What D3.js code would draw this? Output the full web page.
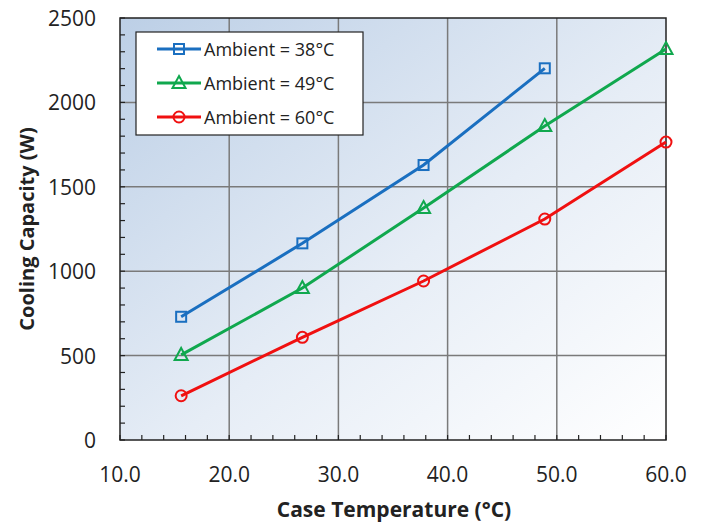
<html>
<head>
<script src="https://cdn.jsdelivr.net/npm/d3@7"></script>
<style>
  body { margin: 0; background: white; }
  text { font-family: "Open Sans", Lato, sans-serif; fill: #222; }
</style>
</head>
<body>
<svg id="chart" width="702" height="524"></svg>
<script>
  // data
  let caseTemps = [15.6, 26.7, 37.8, 48.9, 60.0]
  let amb38 = [730, 1165, 1629, 2202]
  let amb49 = [504, 900, 1374, 1860, 2316]
  let amb60 = [262, 608, 942, 1309, 1765]
  let seriesNames = ["Ambient = 38°C", "Ambient = 49°C", "Ambient = 60°C"]
  let seriesColors = ["#1a6fc0", "#10a84e", "#f01010"]
  let seriesShapes = ["square", "triangle", "circle"]
  let xTicks = [10, 20, 30, 40, 50, 60]
  let yTicks = [0, 500, 1000, 1500, 2000, 2500]

  let svg = d3.select("#chart")
  let pLeft = 120, pRight = 666, pTop = 18, pBottom = 440

  let x = d3.scaleLinear().domain([10, 60]).range([pLeft, pRight])
  let y = d3.scaleLinear().domain([0, 2500]).range([pBottom, pTop])

  // background gradient
  let defs = svg.append("defs")
  let grad = defs.append("linearGradient").attr("id", "bg")
    .attr("x1", "0").attr("y1", "0").attr("x2", "1").attr("y2", "1")
  grad.append("stop").attr("offset", "0").attr("stop-color", "#bccfe6")
  grad.append("stop").attr("offset", "0.55").attr("stop-color", "#e6edf6")
  grad.append("stop").attr("offset", "1").attr("stop-color", "#ffffff")

  svg.append("rect").attr("x", pLeft).attr("y", pTop)
    .attr("width", pRight - pLeft).attr("height", pBottom - pTop)
    .attr("fill", "url(#bg)")

  // grid
  svg.append("g").selectAll("line").data(xTicks.slice(1, -1))
    .enter().append("line")
    .attr("x1", d => x(d)).attr("x2", d => x(d))
    .attr("y1", pTop).attr("y2", pBottom)
    .attr("stroke", "#7a7a7a").attr("stroke-width", 1.5)
  svg.append("g").selectAll("line").data(yTicks.slice(1, -1))
    .enter().append("line")
    .attr("y1", d => y(d)).attr("y2", d => y(d))
    .attr("x1", pLeft).attr("x2", pRight)
    .attr("stroke", "#7a7a7a").attr("stroke-width", 1.5)

  // minor ticks inside
  svg.append("g").selectAll("line").data(d3.range(10, 60.01, 2))
    .enter().append("line")
    .attr("x1", d => x(d)).attr("x2", d => x(d))
    .attr("y1", pBottom).attr("y2", pBottom - 5)
    .attr("stroke", "#222").attr("stroke-width", 1.2)
  svg.append("g").selectAll("line").data(d3.range(0, 2501, 100))
    .enter().append("line")
    .attr("y1", d => y(d)).attr("y2", d => y(d))
    .attr("x1", pLeft).attr("x2", pLeft + 5)
    .attr("stroke", "#222").attr("stroke-width", 1.2)

  // frame
  svg.append("rect").attr("x", pLeft).attr("y", pTop)
    .attr("width", pRight - pLeft).attr("height", pBottom - pTop)
    .attr("fill", "none").attr("stroke", "#222").attr("stroke-width", 1.5)

  // tick labels
  svg.append("g").selectAll("text").data(xTicks)
    .enter().append("text")
    .attr("x", d => x(d)).attr("y", 482)
    .attr("text-anchor", "middle").attr("font-size", 21)
    .text(d => d3.format(".1f")(d))
  svg.append("g").selectAll("text").data(yTicks)
    .enter().append("text")
    .attr("x", 96).attr("y", d => y(d) + 8)
    .attr("text-anchor", "end").attr("font-size", 21)
    .text(d => d)

  // axis titles
  svg.append("text").attr("x", 394).attr("y", 517)
    .attr("text-anchor", "middle").attr("font-size", 21).attr("font-weight", "bold")
    .text("Case Temperature (°C)")
  svg.append("text").attr("transform", "translate(34,229) rotate(-90)")
    .attr("text-anchor", "middle").attr("font-size", 20).attr("font-weight", "bold")
    .text("Cooling Capacity (W)")

  function drawMarker(g, shape, color) {
    if (shape == "square") {
      g.append("rect").attr("x", -5).attr("y", -5).attr("width", 10).attr("height", 10)
        .attr("fill", "none").attr("stroke", color).attr("stroke-width", 2)
    } else if (shape == "triangle") {
      g.append("path").attr("d", "M0,-7L6.5,5L-6.5,5Z")
        .attr("fill", "none").attr("stroke", color).attr("stroke-width", 2)
    } else {
      g.append("circle").attr("r", 5.5)
        .attr("fill", "none").attr("stroke", color).attr("stroke-width", 2)
    }
  }

  let allSeries = [amb38, amb49, amb60]
  let line = d3.line().x(d => x(d[0])).y(d => y(d[1]))

  allSeries.forEach((vals, i) => {
    let pts = vals.map((v, j) => [caseTemps[j], v])
    svg.append("path").attr("d", line(pts))
      .attr("fill", "none").attr("stroke", seriesColors[i]).attr("stroke-width", 3)
    pts.forEach(p => {
      let g = svg.append("g").attr("transform", `translate(${x(p[0])},${y(p[1])})`)
      drawMarker(g, seriesShapes[i], seriesColors[i])
    })
  })

  // legend
  let legend = svg.append("g")
  legend.append("rect").attr("x", 136).attr("y", 32).attr("width", 227).attr("height", 103)
    .attr("fill", "white").attr("stroke", "#222").attr("stroke-width", 1.2)
  seriesNames.forEach((name, i) => {
    let ly = 49 + i * 34
    legend.append("line").attr("x1", 157).attr("x2", 201).attr("y1", ly).attr("y2", ly)
      .attr("stroke", seriesColors[i]).attr("stroke-width", 3)
    let g = legend.append("g").attr("transform", `translate(179,${ly})`)
    drawMarker(g, seriesShapes[i], seriesColors[i])
    legend.append("text").attr("x", 204).attr("y", ly + 7)
      .attr("font-size", 18).text(name)
  })
</script>
</body>
</html>
